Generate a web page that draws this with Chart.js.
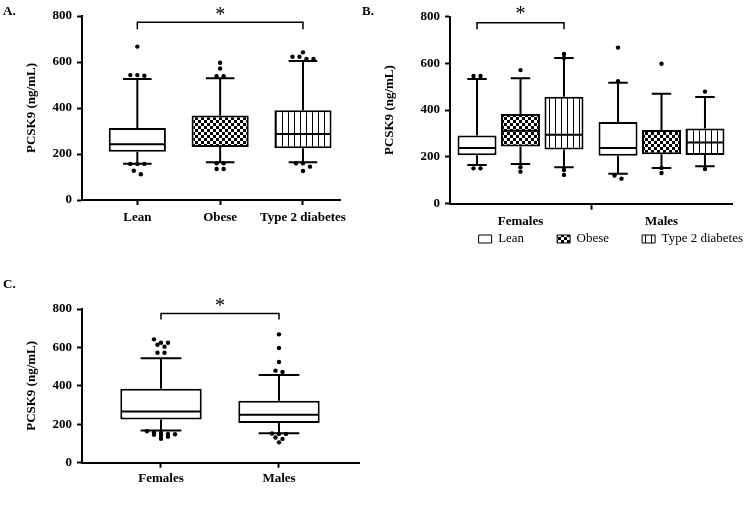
<!DOCTYPE html>
<html>
<head>
<meta charset="utf-8">
<script src="https://cdn.jsdelivr.net/npm/chart.js@4.4.1/dist/chart.umd.min.js"></script>
<style>
  html, body { margin: 0; padding: 0; background: #fff; }
  body { position: relative; width: 750px; height: 516px; overflow: hidden; }
  .panel { position: absolute; }
  .tag { position: absolute; font: bold 13px "Liberation Serif", serif; color: #000; line-height: 1; }
</style>
</head>
<body>
<div class="panel" style="left:0;top:0"><canvas id="chartA" width="375" height="250"></canvas></div>
<div class="panel" style="left:375px;top:0"><canvas id="chartB" width="401" height="260"></canvas></div>
<div class="panel" style="left:0;top:270px"><canvas id="chartC" width="375" height="246"></canvas></div>
<div class="tag" style="left:3px;top:4px">A.</div>
<div class="tag" style="left:362px;top:4px">B.</div>
<div class="tag" style="left:3px;top:277px">C.</div>
<script>
const SERIF = '"Liberation Serif", "Times New Roman", serif';

// A. PCSK9 by group (box = q1..q3, whiskers low..high, dots beyond)
const groupLabels = ['Lean', 'Obese', 'Type 2 diabetes'];
const aLow = [158, 164, 164];
const aQ1 = [210, 230, 225];
const aMedian = [242, null, 287];
const aQ3 = [313, 367, 390];
const aHigh = [526, 529, 604];
const aOutliers = [
  [667, 543, 540, 543, 157, 157, 157, 127, 112],
  [597, 572, 538, 538, 160, 160, 135, 135],
  [642, 623, 623, 613, 613, 160, 160, 145, 126]
];

// B. by sex within group: [group][Females, Males]
const sexLabels = ['Females', 'Males'];
const bLow = [[165, 128], [170, 153], [156, 160]];
const bQ1 = [[207, 205], [244, 211], [232, 208]];
const bMedian = [[238, 238], [312, null], [295, 262]];
const bQ3 = [[291, 349], [383, 315], [457, 321]];
const bHigh = [[533, 517], [536, 470], [623, 456]];
const bOutliers = [
  [[546, 546, 151, 151], [667, 523, 120, 107]],
  [[571, 156, 137], [598, 153, 131]],
  [[640, 623, 144, 123], [479, 148]]
];

// C. by sex
const cLow = [167, 153];
const cQ1 = [225, 206];
const cMedian = [267, 250];
const cQ3 = [385, 322];
const cHigh = [544, 456];
const cOutliers = [
  [642, 624, 624, 614, 604, 572, 572, 164, 157, 155, 150, 148, 145, 140, 135, 125],
  [668, 597, 524, 479, 472, 152, 150, 150, 131, 124, 106]
];

// significance brackets: ends as [dataset, index], heights in ng/mL
const aBracket = { from: [0, 0], to: [0, 2], top: 773, drop: 742, star: 822 };
const bBracket = { from: [0, 0], to: [2, 0], top: 773, drop: 745, star: 826 };
const cBracket = { from: [0, 0], to: [0, 1], top: 777, drop: 745, star: 836 };

Chart.defaults.color = '#000';
Chart.defaults.font.family = SERIF;

function checker(cell) {
  const c = document.createElement('canvas');
  c.width = c.height = cell * 2;
  const g = c.getContext('2d');
  g.fillStyle = '#fff'; g.fillRect(0, 0, cell * 2, cell * 2);
  g.fillStyle = '#000'; g.fillRect(0, 0, cell, cell); g.fillRect(cell, cell, cell, cell);
  return g.createPattern(c, 'repeat');
}
function stripes(step) {
  const c = document.createElement('canvas');
  c.width = step; c.height = 2;
  const g = c.getContext('2d');
  g.fillStyle = '#fff'; g.fillRect(0, 0, step, 2);
  g.fillStyle = '#000'; g.fillRect(0, 0, 1, 2);
  return g.createPattern(c, 'repeat');
}
const fills = ['#fff', checker(3), stripes(6)];

// spread dots that sit at the same height side by side
function swarm(ys, gap) {
  const sorted = ys.slice().sort((a, b) => a - b);
  const placed = [];
  let group = [];
  const flush = () => {
    group.forEach((yy, k) => placed.push({ y: yy, dx: (k - (group.length - 1) / 2) * gap }));
    group = [];
  };
  sorted.forEach(yy => { if (group.length && yy - group[0] > 3.5) flush(); group.push(yy); });
  flush();
  return placed;
}

const boxExtras = {
  id: 'boxExtras',
  afterDatasetsDraw(chart, args, opts) {
    const ctx = chart.ctx;
    const px = v => chart.scales.y.getPixelForValue(v);
    ctx.save();
    ctx.strokeStyle = '#000';
    ctx.fillStyle = '#000';
    chart.data.datasets.forEach((ds, di) => {
      const s = ds.stats;
      chart.getDatasetMeta(di).data.forEach((bar, i) => {
        const x = bar.x, half = bar.width / 2, cap = bar.width / 4;
        ctx.lineWidth = 2;
        ctx.beginPath();
        if (s.median[i] != null) {
          ctx.moveTo(x - half + 1, px(s.median[i])); ctx.lineTo(x + half - 1, px(s.median[i]));
        }
        ctx.moveTo(x, px(s.q3[i])); ctx.lineTo(x, px(s.high[i]));
        ctx.moveTo(x - cap, px(s.high[i])); ctx.lineTo(x + cap, px(s.high[i]));
        ctx.moveTo(x, px(s.q1[i])); ctx.lineTo(x, px(s.low[i]));
        ctx.moveTo(x - cap, px(s.low[i])); ctx.lineTo(x + cap, px(s.low[i]));
        ctx.stroke();
        swarm(s.outliers[i].map(px), opts.gap).forEach(p => {
          ctx.beginPath();
          ctx.arc(x + p.dx, p.y, opts.radius, 0, Math.PI * 2);
          ctx.fill();
        });
      });
    });
    const b = opts.bracket;
    if (b) {
      const x0 = chart.getDatasetMeta(b.from[0]).data[b.from[1]].x;
      const x1 = chart.getDatasetMeta(b.to[0]).data[b.to[1]].x;
      ctx.lineWidth = 1.5;
      ctx.beginPath();
      ctx.moveTo(x0, px(b.drop)); ctx.lineTo(x0, px(b.top));
      ctx.lineTo(x1, px(b.top)); ctx.lineTo(x1, px(b.drop));
      ctx.stroke();
      ctx.font = '20px ' + SERIF;
      ctx.textAlign = 'center';
      ctx.textBaseline = 'alphabetic';
      ctx.fillText('*', (x0 + x1) / 2, px(b.star) + 10);
    }
    ctx.restore();
  }
};

const boldFont = { family: SERIF, size: 13, weight: 'bold' };

function yAxis(width) {
  return {
    min: 0, max: 800,
    ticks: { stepSize: 200, color: '#000', font: boldFont, padding: 5 },
    grid: { drawOnChartArea: false, drawTicks: true, tickLength: 5, tickWidth: 2, tickColor: '#000' },
    border: { color: '#000', width: 2 },
    title: { display: true, text: 'PCSK9 (ng/mL)', color: '#000', font: boldFont, padding: { top: 4, bottom: 4 } },
    afterFit: s => { s.width = width; }
  };
}

function xLinear(labels, min, max, pad) {
  return {
    type: 'linear', min: min, max: max, offset: false,
    afterBuildTicks: s => { s.ticks = labels.map((_, i) => ({ value: i + 1 })); },
    ticks: { callback: v => labels[v - 1], autoSkip: false, maxRotation: 0, minRotation: 0, color: '#000', font: boldFont, padding: pad },
    grid: { offset: false, drawOnChartArea: false, drawTicks: true, tickLength: 5, tickWidth: 2, tickColor: '#000' },
    border: { color: '#000', width: 2 },
    afterFit: s => { s.height = 30; }
  };
}

// A
new Chart(document.getElementById('chartA'), {
  type: 'bar',
  data: {
    datasets: [{
      data: groupLabels.map((_, i) => ({ x: i + 1, y: [aQ1[i], aQ3[i]] })),
      backgroundColor: fills,
      borderColor: '#000', borderWidth: 2, borderSkipped: false,
      barPercentage: 0.69, categoryPercentage: 1,
      stats: { q1: aQ1, q3: aQ3, median: aMedian, low: aLow, high: aHigh, outliers: aOutliers }
    }]
  },
  options: {
    responsive: false, animation: false,
    layout: { padding: { left: 20, right: 35, top: 16, bottom: 20 } },
    plugins: {
      legend: { display: false }, tooltip: { enabled: false },
      boxExtras: { bracket: aBracket, gap: 7, radius: 2.2 }
    },
    scales: { x: xLinear(groupLabels, 0.332, 3.447, 5), y: yAxis(62) }
  },
  plugins: [boxExtras]
});

// B
new Chart(document.getElementById('chartB'), {
  type: 'bar',
  data: {
    labels: sexLabels,
    datasets: groupLabels.map((name, g) => ({
      label: name,
      data: bQ1[g].map((q, k) => [q, bQ3[g][k]]),
      backgroundColor: fills[g],
      borderColor: '#000', borderWidth: 2, borderSkipped: false,
      barPercentage: 0.897, categoryPercentage: 0.925,
      stats: { q1: bQ1[g], q3: bQ3[g], median: bMedian[g], low: bLow[g], high: bHigh[g], outliers: bOutliers[g] }
    }))
  },
  options: {
    responsive: false, animation: false,
    layout: { padding: { left: 3, right: 0, top: 16.5, bottom: 4.5 } },
    plugins: {
      tooltip: { enabled: false },
      legend: {
        position: 'bottom', align: 'end',
        // empty title with negative padding pulls the row up under the axis labels
        title: { display: true, text: ' ', font: { size: 13 }, padding: { top: 0, bottom: -43.8 } },
        labels: {
          color: '#000', font: { family: SERIF, size: 13 },
          boxWidth: 13, boxHeight: 8, padding: 33,
          generateLabels: chart => Chart.defaults.plugins.legend.labels.generateLabels(chart).map(l => ({ ...l, lineWidth: 1 }))
        }
      },
      boxExtras: { bracket: bBracket, gap: 7, radius: 2.2 }
    },
    scales: {
      x: {
        offset: true,
        ticks: { maxRotation: 0, minRotation: 0, color: '#000', font: boldFont, padding: 4 },
        grid: {
          offset: true, drawOnChartArea: false, drawTicks: true, tickLength: 6, tickWidth: 2,
          tickColor: c => c.index === 1 ? '#000' : 'rgba(0,0,0,0)'
        },
        border: { color: '#000', width: 2 },
        afterFit: s => { s.height = 24; }
      },
      y: yAxis(72),
      y2: {
        position: 'right', display: true,
        ticks: { display: false }, grid: { display: false }, border: { display: false },
        afterFit: s => { s.width = 44; }
      }
    }
  },
  plugins: [boxExtras]
});

// C
new Chart(document.getElementById('chartC'), {
  type: 'bar',
  data: {
    datasets: [{
      data: sexLabels.map((_, i) => ({ x: i + 1, y: [cQ1[i], cQ3[i]] })),
      backgroundColor: '#fff',
      borderColor: '#000', borderWidth: 2, borderSkipped: false,
      barPercentage: 0.69, categoryPercentage: 1,
      stats: { q1: cQ1, q3: cQ3, median: cMedian, low: cLow, high: cHigh, outliers: cOutliers }
    }]
  },
  options: {
    responsive: false, animation: false,
    layout: { padding: { left: 20, right: 16, top: 39, bottom: 23.3 } },
    plugins: {
      legend: { display: false }, tooltip: { enabled: false },
      boxExtras: { bracket: cBracket, gap: 7, radius: 2.2 }
    },
    scales: { x: xLinear(sexLabels, 0.3305, 2.678, 3), y: yAxis(62) }
  },
  plugins: [boxExtras]
});
</script>
</body>
</html>
